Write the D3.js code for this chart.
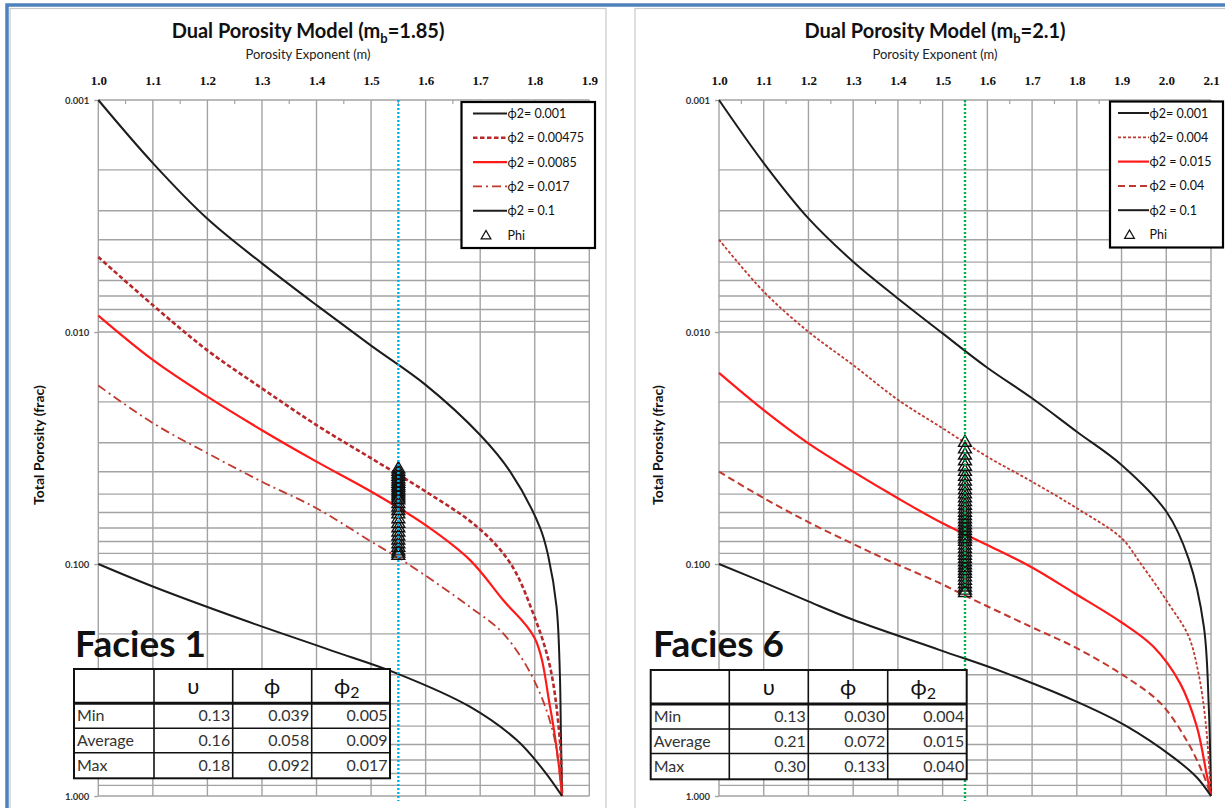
<!DOCTYPE html>
<html>
<head>
<meta charset="utf-8">
<script src="https://cdn.jsdelivr.net/npm/d3@7"></script>
<style>
    body { margin: 0; background: #fff; }
    svg { display: block; font-family: Lato, "Noto Sans", sans-serif; }
</style>
</head>
<body>
<svg id="chart" width="1225" height="808"></svg>
<script>
// porosity exponent ticks (top axis)
const mTicksLeft = [1.0, 1.1, 1.2, 1.3, 1.4, 1.5, 1.6, 1.7, 1.8, 1.9];
const mTicksRight = [1.0, 1.1, 1.2, 1.3, 1.4, 1.5, 1.6, 1.7, 1.8, 1.9, 2.0, 2.1];
// total porosity ticks (log axis)
const phiTicks = [0.001, 0.01, 0.1, 1];

// left chart (mb = 1.85), curves as [m, phi]
const left001 = [[1.0, 0.001], [1.1, 0.00187], [1.2, 0.00325], [1.3, 0.00506], [1.4, 0.00766], [1.5, 0.01145],
    [1.6, 0.0169], [1.7, 0.0278], [1.755, 0.040], [1.81, 0.070], [1.825, 0.093], [1.840, 0.153], [1.846, 0.295],
    [1.848, 0.55], [1.85, 1.0]];
const left00475 = [[1.0, 0.00475], [1.1, 0.00766], [1.2, 0.0120], [1.3, 0.0175], [1.4, 0.0252], [1.5, 0.035],
    [1.6, 0.0487], [1.694, 0.069], [1.755, 0.099], [1.797, 0.163], [1.828, 0.277], [1.846, 0.574], [1.85, 1.0]];
const left0085 = [[1.0, 0.0085], [1.1, 0.0132], [1.2, 0.019], [1.3, 0.0265], [1.4, 0.0362], [1.5, 0.0487],
    [1.6, 0.068], [1.681, 0.096], [1.742, 0.143], [1.800, 0.209], [1.828, 0.412], [1.843, 0.70], [1.85, 1.0]];
const left017 = [[1.0, 0.017], [1.1, 0.0247], [1.2, 0.0333], [1.3, 0.0442], [1.4, 0.0575], [1.5, 0.080],
    [1.565, 0.099], [1.681, 0.153], [1.742, 0.199], [1.797, 0.311], [1.834, 0.537], [1.85, 1.0]];
const left1 = [[1.0, 0.1], [1.1, 0.125], [1.265, 0.174], [1.425, 0.235], [1.547, 0.296], [1.681, 0.412],
    [1.767, 0.574], [1.816, 0.773], [1.85, 1.0]];
// sample porosities plotted at m = 1.55
const leftCutoff = 1.55;
const leftPhi = [0.039, 0.040, 0.041, 0.042, 0.043, 0.044, 0.045, 0.046, 0.047, 0.048, 0.049, 0.050, 0.051,
    0.052, 0.053, 0.055, 0.057, 0.059, 0.061, 0.064, 0.067, 0.070, 0.073, 0.076, 0.079, 0.082, 0.085, 0.088,
    0.090, 0.092];
const leftStats = [['Min', 0.13, 0.039, 0.005], ['Average', 0.16, 0.058, 0.009], ['Max', 0.18, 0.092, 0.017]];

// right chart (mb = 2.1)
const right001 = [[1.0, 0.001], [1.1, 0.00187], [1.2, 0.00324], [1.3, 0.00498], [1.4, 0.00717], [1.5, 0.01014],
    [1.6, 0.01426], [1.7, 0.0193], [1.8, 0.0269], [1.9, 0.0374], [2.0, 0.0594], [2.05, 0.095], [2.084, 0.186],
    [2.095, 0.412], [2.1, 1.0]];
const right004 = [[1.0, 0.004], [1.1, 0.0067], [1.2, 0.00998], [1.3, 0.01388], [1.4, 0.0196], [1.5, 0.026],
    [1.6, 0.0345], [1.7, 0.0442], [1.8, 0.0575], [1.9, 0.0774], [1.942, 0.099], [2.01, 0.153], [2.05, 0.205],
    [2.072, 0.296], [2.088, 0.48], [2.1, 1.0]];
const right015 = [[1.0, 0.015], [1.1, 0.0217], [1.2, 0.0302], [1.3, 0.040], [1.4, 0.0521], [1.5, 0.0668],
    [1.6, 0.0828], [1.696, 0.1026], [1.793, 0.133], [1.897, 0.177], [1.971, 0.227], [2.031, 0.327],
    [2.068, 0.50], [2.090, 0.80], [2.1, 1.0]];
const right04 = [[1.0, 0.04], [1.1, 0.052], [1.2, 0.066], [1.3, 0.082], [1.386, 0.098], [1.494, 0.121],
    [1.554, 0.138], [1.696, 0.186], [1.793, 0.227], [1.897, 0.296], [1.987, 0.398], [2.045, 0.574],
    [2.082, 0.80], [2.1, 1.0]];
const right1 = [[1.0, 0.1], [1.1, 0.12], [1.2, 0.145], [1.3, 0.174], [1.494, 0.235], [1.643, 0.296],
    [1.807, 0.398], [1.911, 0.50], [2.015, 0.68], [2.068, 0.83], [2.1, 1.0]];
const rightCutoff = 1.55;
const rightPhi = [0.030, 0.032, 0.034, 0.036, 0.038, 0.040, 0.042, 0.044, 0.046, 0.048, 0.050, 0.052, 0.054,
    0.056, 0.058, 0.060, 0.062, 0.064, 0.066, 0.068, 0.070, 0.072, 0.074, 0.076, 0.078, 0.080, 0.083, 0.086,
    0.089, 0.092, 0.095, 0.098, 0.101, 0.104, 0.107, 0.110, 0.114, 0.118, 0.122, 0.126, 0.130, 0.133];
const rightStats = [['Min', 0.13, 0.030, 0.004], ['Average', 0.21, 0.072, 0.015], ['Max', 0.30, 0.133, 0.040]];

// line looks shared by both charts
const styles = {
    black: { color: '#1c1c1c', width: 2, dash: null },
    redSolid: { color: '#ff1a1a', width: 2.2, dash: null },
    redDash: { color: '#b8282a', width: 2.6, dash: '4.5,2.5' },
    redDashDot: { color: '#c0392f', width: 1.8, dash: '9,4,2,4' },
    redDot: { color: '#c0392f', width: 1.8, dash: '3,2' },
    redLongDash: { color: '#c0392f', width: 2, dash: '7,4' }
};

const leftPanel = {
    mb: '1.85', facies: 'Facies 1', center: 308,
    xTicks: mTicksLeft, xRange: [98.3, 589.3], cutoff: leftCutoff, cutoffColor: '#00b0f0',
    series: [
        { label: 'ϕ2= 0.001', data: left001, style: styles.black },
        { label: 'ϕ2 = 0.00475', data: left00475, style: styles.redDash },
        { label: 'ϕ2 = 0.0085', data: left0085, style: styles.redSolid },
        { label: 'ϕ2 = 0.017', data: left017, style: styles.redDashDot },
        { label: 'ϕ2 = 0.1', data: left1, style: styles.black }
    ],
    samples: leftPhi, stats: leftStats,
    legend: { x: 461.5, y: 102, w: 133.5, h: 146, lineX: 473, lineW: 34 },
    table: { cols: [74, 154, 232.7, 311.7, 390], rows: [669, 703.3, 728.3, 752.7, 778.3] },
    faciesX: 75, yTitleX: 44
};

const rightPanel = {
    mb: '2.1', facies: 'Facies 6', center: 935,
    xTicks: mTicksRight, xRange: [719, 1211], cutoff: rightCutoff, cutoffColor: '#00b050',
    series: [
        { label: 'ϕ2= 0.001', data: right001, style: styles.black },
        { label: 'ϕ2= 0.004', data: right004, style: styles.redDot },
        { label: 'ϕ2 = 0.015', data: right015, style: styles.redSolid },
        { label: 'ϕ2 = 0.04', data: right04, style: styles.redLongDash },
        { label: 'ϕ2 = 0.1', data: right1, style: styles.black }
    ],
    samples: rightPhi, stats: rightStats,
    legend: { x: 1110, y: 101.5, w: 113, h: 146, lineX: 1118, lineW: 31 },
    table: { cols: [650.7, 729.3, 808.3, 887.7, 966.7], rows: [670, 704, 729, 753.5, 779.3] },
    faciesX: 653, yTitleX: 663
};

document.addEventListener('DOMContentLoaded', function () {
    const svg = d3.select('#chart');

    // slide frame and panel borders
    svg.append('rect').attr('x', 10).attr('y', 8.5).attr('width', 596).attr('height', 810)
        .attr('fill', '#fff').attr('stroke', '#c8c8c8').attr('stroke-width', 1.2);
    svg.append('rect').attr('x', 635).attr('y', 8.5).attr('width', 600).attr('height', 810)
        .attr('fill', '#fff').attr('stroke', '#c8c8c8').attr('stroke-width', 1.2);
    svg.append('path').attr('d', 'M7,808 L7,5 L1225,5')
        .attr('fill', 'none').attr('stroke', '#4f81bd').attr('stroke-width', 3.5);

    drawPanel(svg, leftPanel);
    drawPanel(svg, rightPanel);
});

// draws one full chart: grid, curves, samples, legend, facies table
function drawPanel(svg, p) {
    const x = d3.scaleLinear().domain([p.xTicks[0], p.xTicks[p.xTicks.length - 1]]).range(p.xRange);
    const y = d3.scaleLog().domain([0.001, 1]).range([100, 796]);
    const g = svg.append('g');
    const gridColor = '#a3a3a3';

    // horizontal grid (1..9 per decade)
    g.append('g').selectAll('line').data(y.ticks()).enter().append('line')
        .attr('x1', p.xRange[0]).attr('x2', p.xRange[1])
        .attr('y1', d => y(d)).attr('y2', d => y(d))
        .attr('stroke', gridColor).attr('stroke-width', 1.4);

    // vertical grid
    g.append('g').selectAll('line').data(p.xTicks).enter().append('line')
        .attr('x1', d => x(d)).attr('x2', d => x(d))
        .attr('y1', 100).attr('y2', 796)
        .attr('stroke', gridColor).attr('stroke-width', 1.4);

    // minor ticks on top edge
    const minor = p.xTicks.slice(1).map(d => d - 0.05);
    g.append('g').selectAll('line').data(minor).enter().append('line')
        .attr('x1', d => x(d)).attr('x2', d => x(d))
        .attr('y1', 100).attr('y2', 104)
        .attr('stroke', gridColor).attr('stroke-width', 1.2);

    // top axis labels
    const xAxis = g.append('g').attr('transform', 'translate(0,100)')
        .call(d3.axisTop(x).tickValues(p.xTicks).tickFormat(d3.format('.1f')).tickSize(0).tickPadding(15));
    xAxis.select('.domain').remove();
    xAxis.selectAll('text').attr('fill', '#111')
        .style('font', 'bold 13px "Liberation Serif", serif');

    // left log axis labels
    const yAxis = g.append('g').attr('transform', `translate(${p.xRange[0]},0)`)
        .call(d3.axisLeft(y).tickValues(phiTicks).tickFormat(d3.format('.3f')).tickSize(4).tickPadding(5));
    yAxis.select('.domain').remove();
    yAxis.selectAll('line').attr('stroke', gridColor).attr('stroke-width', 1.4);
    yAxis.selectAll('text').attr('fill', '#333')
        .style('font', 'bold 9.5px Lato, sans-serif');

    // titles
    const title = g.append('text').attr('x', p.center).attr('y', 38)
        .attr('text-anchor', 'middle').attr('fill', '#111')
        .style('font-size', '20px').style('font-weight', 'bold');
    title.append('tspan').text('Dual Porosity Model (m');
    title.append('tspan').attr('dy', 5).style('font-size', '13px').text('b');
    title.append('tspan').attr('dy', -5).text('=' + p.mb + ')');

    g.append('text').attr('x', p.center).attr('y', 59)
        .attr('text-anchor', 'middle').attr('fill', '#222')
        .style('font-size', '13px').text('Porosity Exponent (m)');

    g.append('text')
        .attr('transform', `translate(${p.yTitleX},445) rotate(-90)`)
        .attr('text-anchor', 'middle').attr('fill', '#111')
        .style('font-size', '14px').style('font-weight', 'bold')
        .text('Total Porosity (frac)');

    // model curves
    const line = d3.line().curve(d3.curveCatmullRom.alpha(0.5)).x(d => x(d[0])).y(d => y(d[1]));
    g.append('g').selectAll('path').data(p.series).enter().append('path')
        .attr('d', d => line(d.data))
        .attr('fill', 'none')
        .attr('stroke', d => d.style.color)
        .attr('stroke-width', d => d.style.width)
        .attr('stroke-dasharray', d => d.style.dash);

    // sample triangles
    const tri = d3.symbol().type(d3.symbolTriangle).size(72);
    g.append('g').selectAll('path').data(p.samples).enter().append('path')
        .attr('d', tri)
        .attr('transform', d => `translate(${x(p.cutoff)},${y(d)})`)
        .attr('fill', 'none').attr('stroke', '#111').attr('stroke-width', 1.4);

    // cutoff line
    g.append('line')
        .attr('x1', x(p.cutoff)).attr('x2', x(p.cutoff))
        .attr('y1', 100).attr('y2', 801)
        .attr('stroke', p.cutoffColor).attr('stroke-width', 2.4)
        .attr('stroke-dasharray', '2,2');

    drawLegend(g, p);
    drawTable(g, p);
}

// boxed legend in the top right corner
function drawLegend(g, p) {
    const L = p.legend;
    const lg = g.append('g');
    lg.append('rect').attr('x', L.x).attr('y', L.y).attr('width', L.w).attr('height', L.h)
        .attr('fill', '#fff').attr('stroke', '#000').attr('stroke-width', 2.2);

    const rowY = i => L.y + 11.5 + i * 24.3;
    p.series.forEach((s, i) => {
        lg.append('line')
            .attr('x1', L.lineX).attr('x2', L.lineX + L.lineW)
            .attr('y1', rowY(i)).attr('y2', rowY(i))
            .attr('stroke', s.style.color).attr('stroke-width', s.style.width)
            .attr('stroke-dasharray', s.style.dash);
        lg.append('text').attr('x', L.lineX + L.lineW + 0.5).attr('y', rowY(i) + 4.5)
            .attr('fill', '#111').style('font-size', '12.5px').text(s.label);
    });

    const last = p.series.length;
    lg.append('path').attr('d', d3.symbol().type(d3.symbolTriangle).size(40))
        .attr('transform', `translate(${L.lineX + L.lineW / 2 - 4},${rowY(last) + 1})`)
        .attr('fill', 'none').attr('stroke', '#111').attr('stroke-width', 1.3);
    lg.append('text').attr('x', L.lineX + L.lineW + 0.5).attr('y', rowY(last) + 4.5)
        .attr('fill', '#111').style('font-size', '12.5px').text('Phi');
}

// facies label and the min / average / max table
function drawTable(g, p) {
    const c = p.table.cols;
    const r = p.table.rows;
    const tg = g.append('g');

    tg.append('text').attr('x', p.faciesX).attr('y', 657)
        .attr('fill', '#111').style('font-size', '37px').style('font-weight', 'bold')
        .text(p.facies);

    tg.append('rect').attr('x', c[0]).attr('y', r[0])
        .attr('width', c[4] - c[0]).attr('height', r[4] - r[0])
        .attr('fill', '#fff').attr('stroke', '#111').attr('stroke-width', 2);

    // inner lines
    c.slice(1, 4).forEach(cx => {
        tg.append('line').attr('x1', cx).attr('x2', cx).attr('y1', r[0]).attr('y2', r[4])
            .attr('stroke', '#111').attr('stroke-width', 1.6);
    });
    r.slice(1, 4).forEach((ry, i) => {
        tg.append('line').attr('x1', c[0]).attr('x2', c[4]).attr('y1', ry).attr('y2', ry)
            .attr('stroke', '#111').attr('stroke-width', i === 0 ? 3 : 1.6);
    });

    // header symbols
    const heads = ['υ', 'ϕ', 'ϕ'];
    heads.forEach((h, i) => {
        const t = tg.append('text')
            .attr('x', (c[i + 1] + c[i + 2]) / 2 - (i === 2 ? 4 : 0)).attr('y', r[0] + 25)
            .attr('text-anchor', 'middle').attr('fill', '#111')
            .style('font-size', '22px').text(h);
        if (i === 2) t.append('tspan').attr('dy', 4).style('font-size', '16px').text('2');
    });

    // stat rows
    const fmts = [d3.format('.2f'), d3.format('.3f'), d3.format('.3f')];
    p.stats.forEach((row, i) => {
        const base = r[i + 1] + (r[i + 2] - r[i + 1]) / 2 + 5.5;
        tg.append('text').attr('x', c[0] + 3).attr('y', base)
            .attr('fill', '#333').style('font-size', '16px').text(row[0]);
        row.slice(1).forEach((v, j) => {
            tg.append('text').attr('x', c[j + 2] - 2.5).attr('y', base)
                .attr('text-anchor', 'end').attr('fill', '#333')
                .style('font-size', '16px').text(fmts[j](v));
        });
    });
}
</script>
</body>
</html>
